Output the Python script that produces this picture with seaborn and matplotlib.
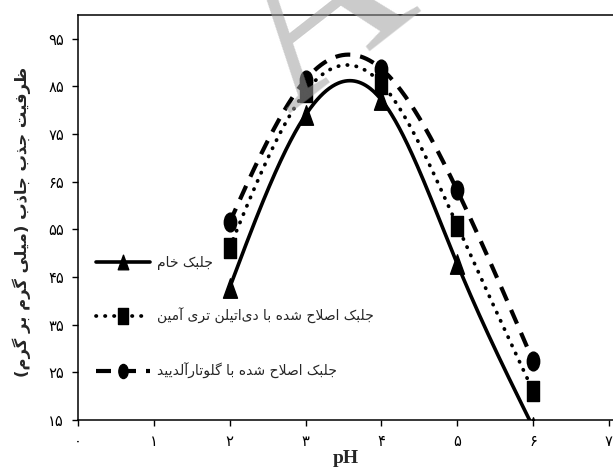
import numpy as np
import pandas as pd
import matplotlib
matplotlib.use("Agg")
import matplotlib.pyplot as plt
from matplotlib.path import Path
from matplotlib.lines import Line2D
import seaborn as sns

# ---- data: adsorption capacity (mg/g) versus pH ----
ph = [2, 3, 4, 5, 6]
raw_algae = [42.8, 79.0, 82.2, 47.8, 13.5]
deta_algae = [51.2, 83.9, 85.6, 55.8, 21.1]
glut_algae = [56.5, 86.4, 88.7, 63.2, 27.4]

x_ticks = [0, 1, 2, 3, 4, 5, 6, 7]
y_ticks = [15, 25, 35, 45, 55, 65, 75, 85, 95]

series_labels = [
    "جلبک خام",
    "جلبک اصلاح شده با دی\u200cاتیلن تری آمین",
    "جلبک اصلاح شده با گلوتارآلدیید",
]
y_title = "ظرفیت جذب جاذب (میلی گرم بر گرم)"
x_title = "pH"

# ---- minimal Persian shaping (contextual forms + right-to-left order) ----
FORMS = {
    '\u0622': ('\uFE81', '\uFE82', None, None),
    '\u0627': ('\uFE8D', '\uFE8E', None, None),
    '\u0628': ('\uFE8F', '\uFE90', '\uFE91', '\uFE92'),
    '\u062A': ('\uFE95', '\uFE96', '\uFE97', '\uFE98'),
    '\u062C': ('\uFE9D', '\uFE9E', '\uFE9F', '\uFEA0'),
    '\u062D': ('\uFEA1', '\uFEA2', '\uFEA3', '\uFEA4'),
    '\u062E': ('\uFEA5', '\uFEA6', '\uFEA7', '\uFEA8'),
    '\u062F': ('\uFEA9', '\uFEAA', None, None),
    '\u0630': ('\uFEAB', '\uFEAC', None, None),
    '\u0631': ('\uFEAD', '\uFEAE', None, None),
    '\u0632': ('\uFEAF', '\uFEB0', None, None),
    '\u0634': ('\uFEB5', '\uFEB6', '\uFEB7', '\uFEB8'),
    '\u0635': ('\uFEB9', '\uFEBA', '\uFEBB', '\uFEBC'),
    '\u0638': ('\uFEC5', '\uFEC6', '\uFEC7', '\uFEC8'),
    '\u0641': ('\uFED1', '\uFED2', '\uFED3', '\uFED4'),
    '\u0644': ('\uFEDD', '\uFEDE', '\uFEDF', '\uFEE0'),
    '\u0645': ('\uFEE1', '\uFEE2', '\uFEE3', '\uFEE4'),
    '\u0646': ('\uFEE5', '\uFEE6', '\uFEE7', '\uFEE8'),
    '\u0647': ('\uFEE9', '\uFEEA', '\uFEEB', '\uFEEC'),
    '\u0648': ('\uFEED', '\uFEEE', None, None),
    '\u06A9': ('\uFB8E', '\uFB8F', '\uFB90', '\uFB91'),
    '\u06AF': ('\uFB92', '\uFB93', '\uFB94', '\uFB95'),
    '\u06CC': ('\uFBFC', '\uFBFD', '\uFBFE', '\uFBFF'),
}
LAM_ALEF = {'\u0627': ('\uFEFB', '\uFEFC'), '\u0622': ('\uFEF5', '\uFEF6')}


def _dual(c):
    return c in FORMS and FORMS[c][2] is not None


def shape_fa(text):
    chars = list(text)
    out = []
    i, n = 0, len(chars)
    while i < n:
        c = chars[i]
        if c not in FORMS:
            if c != '\u200c':
                out.append(c)
            i += 1
            continue
        prev = chars[i - 1] if i > 0 else ''
        joins_prev = _dual(prev)
        if c == '\u0644' and i + 1 < n and chars[i + 1] in LAM_ALEF:
            out.append(LAM_ALEF[chars[i + 1]][1 if joins_prev else 0])
            i += 2
            continue
        nxt = chars[i + 1] if i + 1 < n else ''
        joins_next = _dual(c) and nxt in FORMS
        iso, fin, ini, med = FORMS[c]
        if joins_prev and joins_next:
            g = med
        elif joins_prev:
            g = fin
        elif joins_next:
            g = ini
        else:
            g = iso
        out.append(g)
        i += 1
    vis = ''.join(reversed(out))
    return vis.translate(str.maketrans('()', ')('))


def fa_digits(v):
    return str(v).translate(str.maketrans('0123456789', '۰۱۲۳۴۵۶۷۸۹'))


# ---- natural cubic spline through the measured points ----
def natural_spline(xs, ys, xq):
    xs = np.asarray(xs, float)
    ys = np.asarray(ys, float)
    n = len(xs)
    h = np.diff(xs)
    A = np.zeros((n, n))
    b = np.zeros(n)
    A[0, 0] = A[-1, -1] = 1.0
    for i in range(1, n - 1):
        A[i, i - 1] = h[i - 1]
        A[i, i] = 2 * (h[i - 1] + h[i])
        A[i, i + 1] = h[i]
        b[i] = 6 * ((ys[i + 1] - ys[i]) / h[i] - (ys[i] - ys[i - 1]) / h[i - 1])
    M = np.linalg.solve(A, b)
    xq = np.asarray(xq, float)
    k = np.clip(np.searchsorted(xs, xq) - 1, 0, n - 2)
    x0, x1 = xs[k], xs[k + 1]
    hk = x1 - x0
    t0, t1 = x1 - xq, xq - x0
    return (M[k] * t0 ** 3 / (6 * hk) + M[k + 1] * t1 ** 3 / (6 * hk)
            + (ys[k] / hk - M[k] * hk / 6) * t0
            + (ys[k + 1] / hk - M[k + 1] * hk / 6) * t1)


# ---- marker shapes (tall glyphs) ----
tri_marker = Path([(-0.36, -0.5), (0.36, -0.5), (0.0, 0.5), (-0.36, -0.5)],
                  [Path.MOVETO, Path.LINETO, Path.LINETO, Path.CLOSEPOLY])
sq_marker = Path([(-0.29, -0.5), (0.29, -0.5), (0.29, 0.5), (-0.29, 0.5), (-0.29, -0.5)],
                 [Path.MOVETO, Path.LINETO, Path.LINETO, Path.LINETO, Path.CLOSEPOLY])
_circ = Path.unit_circle()
ell_marker = Path(_circ.vertices * np.array([0.33, 0.5]), _circ.codes)

sns.set_style("ticks")
plt.rcParams['font.family'] = ['DejaVu Sans']

fig = plt.figure(figsize=(6.13, 4.71), dpi=100)
ax = fig.add_axes([78 / 613, 1 - 420 / 471, 1 - 78 / 613, 405 / 471])

styles = [
    dict(vals=raw_algae, marker=tri_marker, ms=14, ls='-', lw=2.6, cap='butt'),
    dict(vals=deta_algae, marker=sq_marker, ms=15, ls=(0, (0.1, 2.3)), lw=2.7, cap='round'),
    dict(vals=glut_algae, marker=ell_marker, ms=13.5, ls=(0, (3.6, 2.4)), lw=3.0, cap='butt'),
]

xq = np.linspace(ph[0], ph[-1], 400)
handles = []
for st in styles:
    curve = pd.DataFrame({"pH": xq, "q": natural_spline(ph, st["vals"], xq)})
    sns.lineplot(data=curve, x="pH", y="q", ax=ax, color="black", lw=st["lw"],
                 linestyle=st["ls"], dash_capstyle=st["cap"], solid_capstyle="butt",
                 estimator=None, sort=False, zorder=3)
    ax.plot(ph, st["vals"], linestyle="none", marker=st["marker"], ms=st["ms"],
            color="black", zorder=4)
    handles.append(Line2D([], [], color="black", lw=st["lw"], linestyle=st["ls"],
                          dash_capstyle=st["cap"], marker=st["marker"],
                          ms=st["ms"] * 0.75))

ax.set_xlim(0, 7.054)
ax.set_ylim(15, 100)
ax.set_xticks(x_ticks)
ax.set_xticklabels([fa_digits(v) for v in x_ticks])
ax.set_yticks(y_ticks)
ax.set_yticklabels([fa_digits(v) for v in y_ticks])
ax.tick_params(direction="out", length=4, width=1, labelsize=10.5, colors="black", pad=6)

for side in ["left", "bottom", "top"]:
    ax.spines[side].set_color("black")
    ax.spines[side].set_linewidth(1.1)
ax.spines["right"].set_visible(False)

ax.set_xlabel(x_title, fontsize=14, fontweight="bold", family="Liberation Serif")
ax.xaxis.set_label_coords(0.5, -0.075)
ax.set_ylabel(shape_fa(y_title), fontsize=11.8, fontweight="bold")
ax.yaxis.set_label_coords(-0.088, 0.49)

leg = ax.legend(handles, [shape_fa(s) for s in series_labels],
                loc="upper left", bbox_to_anchor=(96 / 613, 1 - 256 / 471),
                bbox_transform=fig.transFigure, frameon=False, fontsize=10,
                handlelength=3.9, handletextpad=0.5, labelspacing=2.75,
                borderpad=0, borderaxespad=0)

# faint diagonal watermark letter at the top
fig.text(320 / 613, 1 - 16 / 471, "A", rotation=38, fontsize=170,
         family="Liberation Serif", color="#a0a0a0", alpha=0.55,
         ha="center", va="center", zorder=10)

fig.savefig("out.png", dpi=100, facecolor="white")
